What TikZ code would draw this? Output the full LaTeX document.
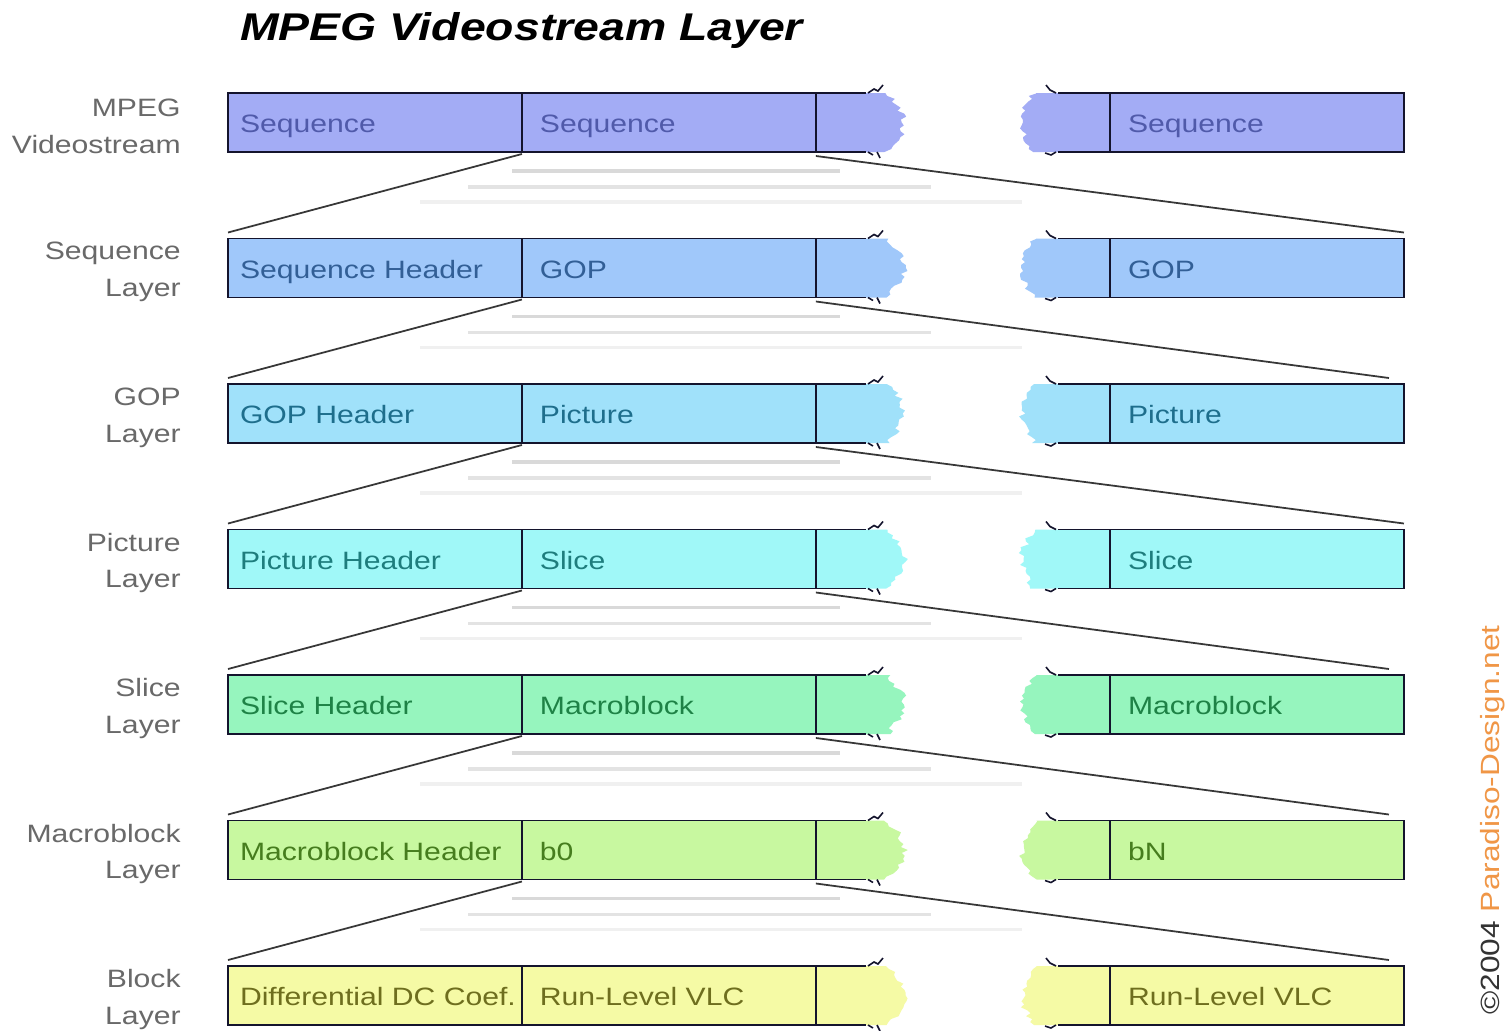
\documentclass[tikz,border=0pt]{standalone}
\usepackage{fontspec}
\setmainfont{Liberation Sans}[FakeStretch=1.2]
\usetikzlibrary{positioning,calc}

\definecolor{fill1}{RGB}{163,172,245}
\definecolor{fill2}{RGB}{160,200,250}
\definecolor{fill3}{RGB}{160,225,250}
\definecolor{fill4}{RGB}{160,248,248}
\definecolor{fill5}{RGB}{150,245,190}
\definecolor{fill6}{RGB}{200,248,160}
\definecolor{fill7}{RGB}{245,250,165}
\definecolor{txt1}{RGB}{80,90,170}
\definecolor{txt2}{RGB}{50,95,150}
\definecolor{txt3}{RGB}{30,110,140}
\definecolor{txt4}{RGB}{30,125,125}
\definecolor{txt5}{RGB}{30,130,70}
\definecolor{txt6}{RGB}{70,125,30}
\definecolor{txt7}{RGB}{110,110,30}
\definecolor{framec}{RGB}{20,20,45}
\definecolor{linkc}{RGB}{55,55,55}
\definecolor{labelc}{RGB}{105,105,105}
\definecolor{cporange}{RGB}{240,150,70}

\newcommand{\boxfont}{\fontsize{14.3}{17}\selectfont}

\tikzset{
	cell/.style={rectangle, draw=framec, line width=1.1pt, anchor=west, outer sep=0pt,
		minimum width=5.88cm, minimum height=1.18cm, inner xsep=0.36cm, text width=5.16cm,
		align=left, text height=14.5pt, text depth=3pt, font=\boxfont},
	hdrcell/.style={inner xsep=0.24cm, text width=5.4cm},
	lbl/.style={anchor=east, align=right, inner sep=0pt, text=labelc, font=\fontsize{14.3}{21}\selectfont},
	link/.style={draw=linkc, line width=1pt},
	frameline/.style={draw=framec, line width=1.1pt},
	speck/.style={draw=framec, line width=0.9pt},
	glare/.style={line width=1.8pt}
}

\begin{document}
\begin{tikzpicture}[x=0.02cm, y=-0.02cm]
	\fill[white] (0,0) rectangle (1508,1031);
	\useasboundingbox (0,0) rectangle (1508,1031);
	
	\node[anchor=west, font=\fontsize{22}{26}\selectfont\bfseries\itshape] (title) at (234,31) {MPEG Videostream Layer};
	
	% one row per layer
	\foreach \i/\lab/\hd/\md/\en in {
		1/{MPEG\\Videostream}/Sequence/Sequence/Sequence,
		2/{Sequence\\Layer}/Sequence Header/GOP/GOP,
		3/{GOP\\Layer}/GOP Header/Picture/Picture,
		4/{Picture\\Layer}/Picture Header/Slice/Slice,
		5/{Slice\\Layer}/Slice Header/Macroblock/Macroblock,
		6/{Macroblock\\Layer}/Macroblock Header/b0/bN,
		7/{Block\\Layer}/Differential DC Coef./Run-Level VLC/Run-Level VLC}{
		\pgfmathsetmacro\yc{122.5+145.5*(\i-1)}
		\pgfmathsetmacro\ytop{\yc-29.5}
		\pgfmathsetmacro\ybot{\yc+29.5}
		% torn ends
		\fill[fill\i] (816,\ytop) -- (884,\ytop) \foreach \k in {0,...,20}{ -- ({887+17*sin(9*\k)+4*rand},{\ytop+2.95*\k}) } -- (816,\ybot) -- cycle;
		\fill[fill\i] (1110,\ytop) -- (1036,\ytop) \foreach \k in {0,...,20}{ -- ({1034-12*sin(9*\k)+4*rand},{\ytop+2.95*\k}) } -- (1110,\ybot) -- cycle;
		\draw[frameline] (816,\ytop) -- (866,\ytop) (816,\ybot) -- (866,\ybot) (1058,\ytop) -- (1110,\ytop) (1058,\ybot) -- (1110,\ybot);
		\draw[speck] (868,\ytop) -- ++(6,-4) -- ++(4,2) -- ++(5,-6);
		\draw[speck] (868,\ybot) -- ++(5,3) ++(4,-3) -- ++(3,6);
		\draw[speck] (1056,\ytop) -- ++(-6,-3) -- ++(-4,-5);
		\draw[speck] (1056,\ybot) -- ++(-5,3) -- ++(-6,-2);
		% cells
		\node[lbl] (lbl\i) at (181,\yc+4) {\lab};
		\node[cell, hdrcell, fill=fill\i, text=txt\i] (hdr\i) at (228,\yc) {\mbox{\hd}};
		\node[cell, fill=fill\i, text=txt\i, right=0pt of hdr\i] (mid\i) {\mbox{\md}};
		\node[cell, fill=fill\i, text=txt\i] (end\i) at (1110,\yc) {\mbox{\en}};
	}
	
	% zoom lines between layers
	\foreach \i/\j/\rx in {1/2/0, 2/3/-15, 3/4/0, 4/5/-15, 5/6/-15, 6/7/-15}{
		\pgfmathsetmacro\ybot{152+145.5*(\i-1)}
		\draw[glare, draw=gray!30] (512,\ybot+19) -- (840,\ybot+19);
		\draw[glare, draw=gray!22] (468,\ybot+35) -- (931,\ybot+35);
		\draw[glare, draw=gray!12] (420,\ybot+50) -- (1022,\ybot+50);
		\draw[link] ($(mid\i.south west)+(0,2)$) -- ($(hdr\j.north west)+(0,-6)$);
		\draw[link] ($(mid\i.south east)+(0,4)$) -- ($(end\j.north east)+(\rx,-6)$);
	}
	
	\node[rotate=90, font=\fontsize{15}{17}\selectfont] (copy) at (1493,820) {\textcolor{black!80}{\textcopyright 2004}\ \textcolor{cporange}{Paradiso-Design.net}};
\end{tikzpicture}
\end{document}
